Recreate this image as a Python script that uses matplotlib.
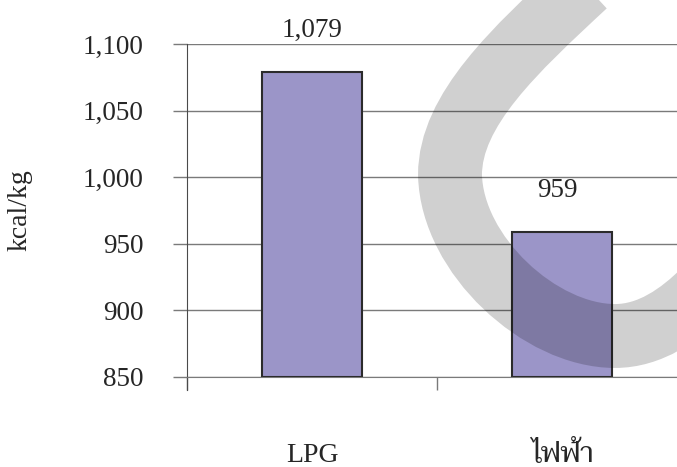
import matplotlib
matplotlib.use('Agg')
import matplotlib.pyplot as plt
from matplotlib.path import Path
from matplotlib.patches import PathPatch
from matplotlib.transforms import Affine2D
from matplotlib.ticker import FuncFormatter

# data
categories = ['LPG', 'ไฟฟ้า']
energy_kcal = [1079, 959]
y_ticks = [850, 900, 950, 1000, 1050, 1100]

bar_color = '#9B95C8'
grid_color = '#7A7A7A'
text_color = '#262626'
serif = ['Liberation Serif', 'Taviraj']

fig = plt.figure(figsize=(6.77, 4.67), dpi=100)
W, H = 677, 467
# axes box in pixels: left 187, right 687 (past the edge), top 44, bottom 377
ax = fig.add_axes([187 / W, (H - 377) / H, 500 / W, 333 / H])

xs = range(len(categories))
ax.bar(xs, [v - y_ticks[0] for v in energy_kcal], bottom=y_ticks[0], width=0.4,
       color=bar_color, edgecolor='#2B2B2B', linewidth=1.5, zorder=3)

ax.set_xlim(-0.5, len(categories) - 0.5)
ax.set_ylim(y_ticks[0], y_ticks[-1])
ax.set_yticks(y_ticks)
ax.yaxis.set_major_formatter(FuncFormatter(lambda v, p: f'{int(v):,}'))
ax.grid(axis='y', color=grid_color, linewidth=1.0, zorder=0)
ax.set_axisbelow(True)

# category boundaries carry the ticks, centres carry the names
ax.set_xticks([i - 0.5 for i in range(len(categories) + 1)])
ax.set_xticklabels([])
ax.set_xticks(list(xs), minor=True)
ax.set_xticklabels(categories, minor=True)
ax.tick_params(axis='x', which='major', length=9.5, width=1.0, color=grid_color)
ax.tick_params(axis='x', which='minor', length=0, pad=61)
ax.tick_params(axis='y', length=10, width=1.0, color=grid_color, pad=21)

for lab in ax.get_yticklabels():
    lab.set_fontfamily(serif)
    lab.set_fontsize(19.5)
    lab.set_color(text_color)
for lab in ax.get_xticklabels(minor=True):
    lab.set_fontfamily(serif)
    lab.set_fontsize(20)
    lab.set_color(text_color)
    lab.set_verticalalignment('baseline')

for side in ('top', 'right'):
    ax.spines[side].set_visible(False)
ax.spines['left'].set_color('#4A4A4A')
ax.spines['bottom'].set_color(grid_color)
ax.spines['left'].set_bounds(y_ticks[0] - 10, y_ticks[-1])

ax.set_ylabel('kcal/kg', family=serif, fontsize=20, color=text_color)
ax.yaxis.set_label_coords(-0.308, 0.5)

for x, v in zip(xs, energy_kcal):
    ax.annotate(f'{v:,}', (x, v), xytext=(-3 if x else 0, 25),
                textcoords='offset points', ha='center', va='baseline',
                family=serif, fontsize=19.5, color=text_color)

# grey swoosh over the plot, laid out in pixel space from the top-left corner
px = Affine2D().scale(1 / W, -1 / H).translate(0, 1) + fig.transFigure
verts = [(585, -15), (515, 50), (450, 110), (450, 175),
         (452, 255), (540, 336), (615, 336),
         (650, 336), (680, 315), (705, 290)]
codes = [Path.MOVETO] + [Path.CURVE4] * 9
swoosh = PathPatch(Path(verts, codes), facecolor='none', edgecolor='black',
                   alpha=0.185, linewidth=46, capstyle='butt', transform=px,
                   zorder=10)
fig.add_artist(swoosh)

fig.savefig('out.png', dpi=100)
